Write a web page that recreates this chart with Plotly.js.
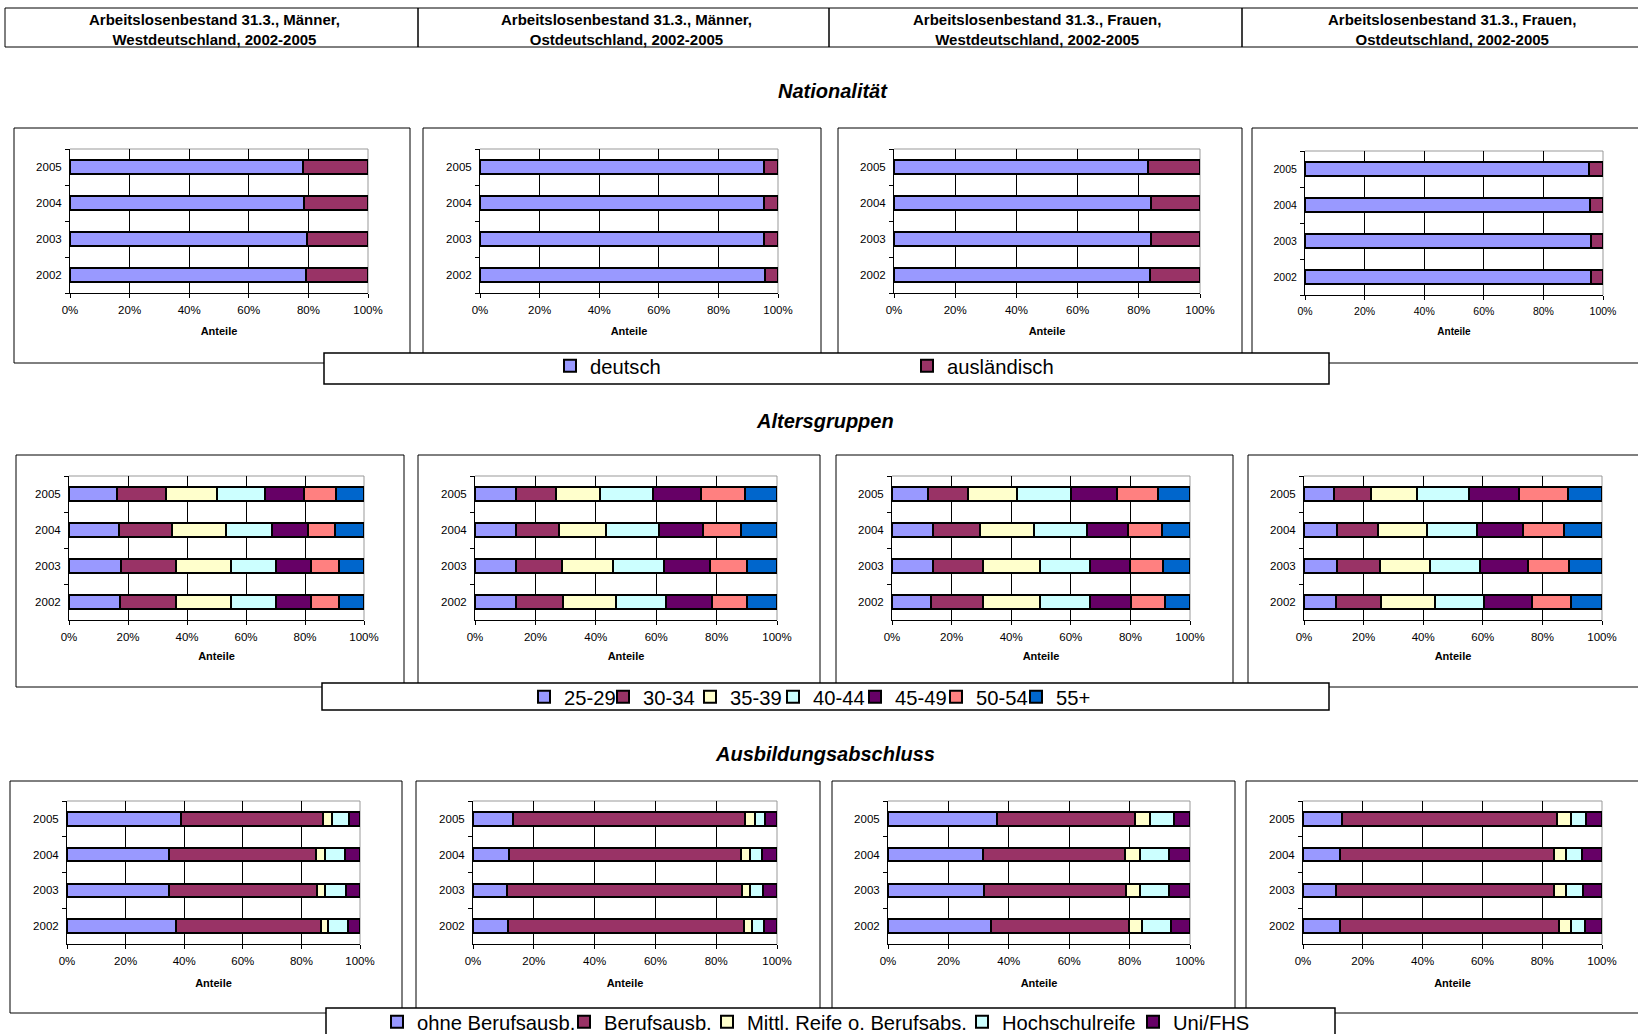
<!DOCTYPE html>
<html><head><meta charset="utf-8">
<script src="https://cdn.plot.ly/plotly-3.0.1.min.js"></script>
<style>html,body{margin:0;padding:0;background:#fff;overflow:hidden;width:1638px;height:1034px}#chart{overflow:hidden}</style>
</head><body><div id="chart" style="width:1638px;height:1034px"></div>
<script>
// ---------------- DATA ----------------
const years = ['2002', '2003', '2004', '2005'];
const panelTitles = [
  'Arbeitslosenbestand 31.3., Männer,<br>Westdeutschland, 2002-2005',
  'Arbeitslosenbestand 31.3., Männer,<br>Ostdeutschland, 2002-2005',
  'Arbeitslosenbestand 31.3., Frauen,<br>Westdeutschland, 2002-2005',
  'Arbeitslosenbestand 31.3., Frauen,<br>Ostdeutschland, 2002-2005'
];
const sectionTitles = ['Nationalität', 'Altersgruppen', 'Ausbildungsabschluss'];
const xTitle = 'Anteile';

const natNames = ['deutsch', 'ausländisch'];
const natColors = ['#9999FF', '#993366'];
const ageNames = ['25-29', '30-34', '35-39', '40-44', '45-49', '50-54', '55+'];
const ageColors = ['#9999FF', '#993366', '#FFFFCC', '#CCFFFF', '#660066', '#FF8080', '#0066CC'];
const eduNames = ['ohne Berufsausb.', 'Berufsausb.', 'Mittl. Reife o. Berufsabs.', 'Hochschulreife', 'Uni/FHS'];
const eduColors = ['#9999FF', '#993366', '#FFFFCC', '#CCFFFF', '#660066'];

// rows = years 2002..2005, columns = categories (percent)
const natMaennerWest = [[79.3, 20.7], [79.5, 20.5], [78.5, 21.5], [78.2, 21.8]];
const natMaennerOst  = [[95.6, 4.4], [95.2, 4.8], [95.2, 4.8], [95.2, 4.8]];
const natFrauenWest  = [[83.6, 16.4], [84.1, 15.9], [83.9, 16.1], [83.0, 17.0]];
const natFrauenOst   = [[96.1, 3.9], [95.9, 4.1], [95.5, 4.5], [95.3, 4.7]];

const ageMaennerWest = [
  [17.3, 19.1, 18.4, 15.3, 11.8, 9.5, 8.6],
  [17.6, 18.8, 18.4, 15.3, 11.8, 9.5, 8.6],
  [17.1, 17.7, 18.3, 15.7, 12.1, 9.4, 9.7],
  [16.4, 16.4, 17.4, 16.4, 13.1, 10.8, 9.5]];
const ageMaennerOst = [
  [13.7, 15.3, 17.7, 16.4, 15.4, 11.5, 10.0],
  [13.7, 15.1, 16.9, 16.9, 15.3, 12.1, 10.0],
  [13.7, 14.0, 15.8, 17.4, 14.6, 12.7, 11.8],
  [13.7, 13.0, 14.8, 17.4, 15.8, 14.6, 10.7]];
const ageFrauenWest = [
  [13.0, 17.6, 19.0, 16.9, 13.6, 11.4, 8.5],
  [13.6, 16.8, 19.1, 16.9, 13.3, 11.1, 9.2],
  [13.6, 15.8, 18.3, 17.6, 13.9, 11.3, 9.5],
  [12.2, 13.3, 16.6, 17.8, 15.5, 14.0, 10.6]];
const ageFrauenOst = [
  [10.9, 14.8, 18.2, 16.6, 16.0, 13.1, 10.4],
  [11.1, 14.3, 16.8, 17.0, 15.9, 13.7, 11.2],
  [11.1, 13.6, 16.7, 16.7, 15.3, 13.7, 12.9],
  [10.1, 12.5, 15.3, 17.6, 16.5, 16.6, 11.4]];

const eduMaennerWest = [
  [37.1, 49.5, 2.6, 6.6, 4.2],
  [34.9, 50.3, 2.8, 7.1, 4.9],
  [34.9, 50.0, 3.0, 7.0, 5.1],
  [38.8, 48.7, 3.0, 5.7, 3.8]];
const eduMaennerOst = [
  [11.6, 77.4, 2.8, 3.8, 4.4],
  [11.3, 77.1, 2.8, 4.1, 4.7],
  [12.0, 76.1, 2.9, 4.1, 4.9],
  [13.3, 76.3, 3.0, 3.6, 3.8]];
const eduFrauenWest = [
  [34.0, 45.7, 4.5, 9.4, 6.4],
  [31.7, 47.0, 4.7, 9.6, 7.0],
  [31.3, 47.3, 4.8, 9.6, 7.0],
  [36.2, 45.6, 5.1, 7.9, 5.2]];
const eduFrauenOst = [
  [12.4, 73.2, 4.0, 4.6, 5.8],
  [11.0, 72.8, 4.3, 5.5, 6.4],
  [12.4, 71.4, 4.0, 5.6, 6.6],
  [12.9, 72.0, 4.7, 4.9, 5.5]];

// ---------------- LAYOUT HELPERS ----------------
const W = 1638, H = 1034;
const FONT = 'Liberation Sans, Arial, sans-serif';
const fx = v => Math.min(v, W) / W;
const fy = v => 1 - Math.min(v, H) / H;

const rows = [
  {data: [natMaennerWest, natMaennerOst, natFrauenWest, natFrauenOst], names: natNames, colors: natColors},
  {data: [ageMaennerWest, ageMaennerOst, ageFrauenWest, ageFrauenOst], names: ageNames, colors: ageColors},
  {data: [eduMaennerWest, eduMaennerOst, eduFrauenWest, eduFrauenOst], names: eduNames, colors: eduColors}
];

// plot areas in pixels [x0, x1, y0, y1]
const plotAreas = [
  [[70, 368, 149, 293], [480, 778, 149, 293], [894, 1200, 149, 293], [1305, 1603, 151, 295]],
  [[69, 364, 476, 620], [475, 777, 476, 620], [892, 1190, 476, 620], [1304, 1602, 476, 620]],
  [[67, 360, 801, 944], [473, 777, 801, 944], [888, 1190, 801, 944], [1303, 1602, 801, 944]]
];
const titleStandoff = [12, 10, 13];
// chart boxes [x0,x1,y0,y1]
const boxes = [
  [[14, 410, 128, 363], [423, 821, 128, 363], [838, 1242, 128, 363], [1252, 1660, 128, 363]],
  [[16, 404, 455, 687], [418, 820, 455, 687], [836, 1233, 455, 687], [1248, 1660, 455, 687]],
  [[10, 402, 781, 1013], [416, 820, 781, 1013], [832, 1235, 781, 1013], [1246, 1660, 781, 1013]]
];
const legendBoxes = [[324, 1329, 353, 384], [322, 1329, 683, 710], [326, 1335, 1008, 1060]];
// left edge of each legend entry (px) and vertical centre per row
const legendItemX = [[550, 907], [524, 603, 690, 773, 855, 936, 1016], [377, 564, 707, 962, 1133]];
const legendRowY = [366, 697, 1022];
const sectionPos = [[833, 91], [825, 421], [825, 754]];
const headerCols = [5, 418, 829, 1242, 1660];
const headerCenters = [214, 626, 1037, 1452];

// open/closed box as path (sides beyond the page are simply not drawn)
function boxPath(x0, x1, y0, y1) {
  const L = fx(x0), R = fx(x1), T = fy(y0), B = fy(y1);
  const rOut = x1 > W, bOut = y1 > H;
  if (rOut && bOut) return `M${L},${B} L${L},${T} L${R},${T}`;
  if (rOut) return `M${R},${T} L${L},${T} L${L},${B} L${R},${B}`;
  if (bOut) return `M${L},${B} L${L},${T} L${R},${T} L${R},${B}`;
  return `M${L},${T} L${R},${T} L${R},${B} L${L},${B} Z`;
}

const traces = [];
const layout = {
  width: W, height: H,
  margin: {l: 0, r: 0, t: 0, b: 0, autoexpand: false},
  paper_bgcolor: '#fff', plot_bgcolor: 'rgba(0,0,0,0)',
  barmode: 'stack', bargap: 0.62,
  font: {family: FONT, color: '#000'},
  showlegend: true,
  shapes: [], annotations: []
};

let legendCount = 0;
rows.forEach((row, r) => {
  // one single-entry legend per series, placed like the original legend entries
  const legIds = row.names.map((nm, i) => {
    legendCount++;
    const id = legendCount === 1 ? 'legend' : 'legend' + legendCount;
    layout[id] = {orientation: 'h', x: fx(legendItemX[r][i]), xanchor: 'left', y: fy(legendRowY[r]), yanchor: 'middle',
      font: {size: 20.2, family: FONT}, bgcolor: 'rgba(0,0,0,0)', borderwidth: 0,
      itemclick: false, itemdoubleclick: false, itemwidth: 30};
    return id;
  });
  row.data.forEach((tbl, p) => {
    const k = r * 4 + p + 1;
    const xa = 'x' + (k === 1 ? '' : k), ya = 'y' + (k === 1 ? '' : k);
    const [x0, x1, y0, y1] = plotAreas[r][p];
    const small = (r === 0 && p === 3);
    const tf = small ? 10.5 : 11.5;
    layout['xaxis' + (k === 1 ? '' : k)] = {
      domain: [fx(x0), fx(x1)], anchor: ya, range: [0, 100], dtick: 20, ticksuffix: '%',
      showgrid: true, gridcolor: '#000', gridwidth: 1, zeroline: false,
      showline: true, linecolor: '#000', linewidth: 1,
      ticks: 'outside', ticklen: 4, tickcolor: '#000', ticklabelstandoff: 2,
      tickfont: {size: tf, family: FONT}, fixedrange: true,
      title: {text: xTitle, font: {size: small ? 10 : 11, family: FONT, weight: 'bold'}, standoff: titleStandoff[r]}
    };
    layout['yaxis' + (k === 1 ? '' : k)] = {
      domain: [fy(y1), fy(y0)], anchor: xa, type: 'category',
      categoryorder: 'array', categoryarray: years,
      tickson: 'boundaries', ticks: 'outside', ticklen: 4, tickcolor: '#000',
      showline: true, linecolor: '#000', linewidth: 1, showgrid: false, zeroline: false,
      tickfont: {size: tf, family: FONT}, fixedrange: true, ticklabelstandoff: 5
    };
    // gray plot-area border (top/right)
    layout.shapes.push({type: 'line', xref: xa + ' domain', yref: ya + ' domain', x0: 0, x1: 1, y0: 1, y1: 1, line: {color: '#999', width: 1}, layer: 'below'});
    layout.shapes.push({type: 'line', xref: xa + ' domain', yref: ya + ' domain', x0: 1, x1: 1, y0: 0, y1: 1, line: {color: '#999', width: 1}, layer: 'below'});
    row.names.forEach((nm, i) => {
      traces.push({
        type: 'bar', orientation: 'h', name: nm,
        y: years, x: tbl.map(v => v[i]),
        xaxis: xa, yaxis: ya,
        marker: {color: row.colors[i], line: {color: '#000', width: 2}},
        showlegend: p === 0, legend: legIds[i],
        hovertemplate: nm + ' %{y}: %{x:.1f}%<extra></extra>'
      });
    });
  });
});

// chart boxes
boxes.forEach(rowBoxes => rowBoxes.forEach(b => {
  layout.shapes.push({type: 'path', xref: 'paper', yref: 'paper', path: boxPath(b[0], b[1], b[2], b[3]), line: {color: '#000', width: 1}, fillcolor: 'rgba(0,0,0,0)', layer: 'above'});
}));
// legend boxes (white, covering chart box borders)
legendBoxes.forEach(b => {
  layout.shapes.push({type: 'rect', xref: 'paper', yref: 'paper', x0: fx(b[0]), x1: fx(b[1]), y0: fy(Math.min(b[3], H)), y1: fy(b[2]), line: {width: 0}, fillcolor: '#fff', layer: 'above'});
  layout.shapes.push({type: 'path', xref: 'paper', yref: 'paper', path: boxPath(b[0], b[1], b[2], b[3]), line: {color: '#000', width: 1.5}, fillcolor: 'rgba(0,0,0,0)', layer: 'above'});
});
// header boxes
for (let i = 0; i < 4; i++) {
  layout.shapes.push({type: 'path', xref: 'paper', yref: 'paper', path: boxPath(headerCols[i], headerCols[i + 1], 8, 47), line: {color: '#000', width: 1}, fillcolor: 'rgba(0,0,0,0)'});
  layout.annotations.push({xref: 'paper', yref: 'paper', x: fx(headerCenters[i]), y: fy(29.5),
    text: '<b>' + panelTitles[i] + '</b>', showarrow: false, xanchor: 'center', yanchor: 'middle',
    font: {size: 15, family: FONT}, align: 'center'});
}
sectionTitles.forEach((t, i) => {
  layout.annotations.push({xref: 'paper', yref: 'paper', x: fx(sectionPos[i][0]), y: fy(sectionPos[i][1]),
    text: '<b><i>' + t + '</i></b>', showarrow: false, xanchor: 'center', yanchor: 'middle', font: {size: 20, family: FONT}});
});

Plotly.newPlot('chart', traces, layout, {displayModeBar: false, staticPlot: true});
</script></body></html>
